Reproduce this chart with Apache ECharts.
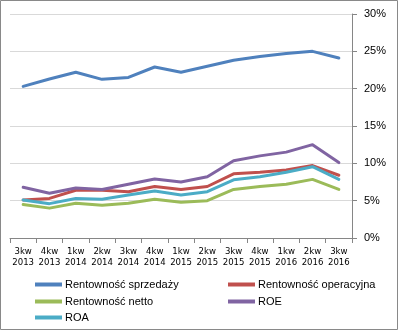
<!DOCTYPE html>
<html>
<head>
<meta charset="utf-8">
<script src="https://cdn.jsdelivr.net/npm/echarts@6/dist/echarts.min.js"></script>
<style>
  html, body { margin: 0; padding: 0; background: #fff; }
  #chart { width: 398px; height: 330px; }
</style>
</head>
<body>
<div id="chart"></div>
<script>
// Quarterly labels (quarter / year)
const quarters = [
  '3kw\n2013', '4kw\n2013', '1kw\n2014', '2kw\n2014', '3kw\n2014', '4kw\n2014',
  '1kw\n2015', '2kw\n2015', '3kw\n2015', '4kw\n2015', '1kw\n2016', '2kw\n2016', '3kw\n2016'
];

// Profitability ratios, in percent
const rentownoscSprzedazy   = [20.3, 21.3, 22.2, 21.25, 21.5, 22.9, 22.2, 23.0, 23.8, 24.3, 24.7, 25.0, 24.1];
const rentownoscOperacyjna  = [5.1, 5.3, 6.4, 6.4, 6.2, 6.9, 6.5, 6.9, 8.6, 8.8, 9.1, 9.7, 8.4];
const rentownoscNetto       = [4.5, 4.0, 4.65, 4.4, 4.65, 5.2, 4.8, 5.0, 6.5, 6.9, 7.2, 7.85, 6.5];
const roe                   = [6.8, 6.0, 6.7, 6.5, 7.2, 7.9, 7.5, 8.2, 10.35, 11.0, 11.5, 12.5, 10.1];
const roa                   = [5.1, 4.6, 5.3, 5.2, 5.75, 6.3, 5.75, 6.2, 7.8, 8.2, 8.8, 9.55, 7.85];

// Value axis ticks
const yMin = 0, yMax = 30, yStep = 5;

const seriesDefs = [
  { name: 'Rentowność sprzedaży',  data: rentownoscSprzedazy,  color: '#4F81BD' },
  { name: 'Rentowność operacyjna', data: rentownoscOperacyjna, color: '#C0504D' },
  { name: 'Rentowność netto',      data: rentownoscNetto,      color: '#9BBB59' },
  { name: 'ROE',                   data: roe,                  color: '#8064A2' },
  { name: 'ROA',                   data: roa,                  color: '#4BACC6' }
];

const textFont = 'Liberation Sans';
const narrowFont = '"DejaVu Sans Condensed", "Liberation Sans", sans-serif';

function legendAt(name, left, top) {
  return {
    data: [name],
    left: left,
    top: top,
    padding: 0,
    icon: 'rect',
    itemWidth: 27,
    itemHeight: 4,
    itemGap: 0,
    selectedMode: false,
    textStyle: { fontFamily: textFont, fontSize: 11, color: '#000', padding: [0, 0, 0, -2] }
  };
}

const chart = echarts.init(document.getElementById('chart'), null, { renderer: 'canvas' });

chart.setOption({
  animation: false,
  backgroundColor: '#fff',
  color: seriesDefs.map(s => s.color),
  grid: { left: 10, right: 46, top: 14, bottom: 92, containLabel: false },
  legend: [
    legendAt('Rentowność sprzedaży', 35, 279),
    legendAt('Rentowność operacyjna', 228, 279),
    legendAt('Rentowność netto', 35, 296),
    legendAt('ROE', 228, 296),
    legendAt('ROA', 35, 312)
  ],
  xAxis: {
    type: 'category',
    data: quarters,
    boundaryGap: true,
    axisLine: { lineStyle: { color: '#868686', width: 1 } },
    axisTick: { show: true, length: 5, interval: 0, lineStyle: { color: '#868686' } },
    axisLabel: {
      interval: 0,
      margin: 8,
      fontFamily: narrowFont,
      fontSize: 9.5,
      lineHeight: 11,
      color: '#000'
    },
    splitLine: { show: false }
  },
  yAxis: {
    type: 'value',
    position: 'right',
    min: yMin,
    max: yMax,
    interval: yStep,
    axisLine: { show: true, lineStyle: { color: '#868686', width: 1 } },
    axisTick: { show: true, length: 5, lineStyle: { color: '#868686' } },
    axisLabel: {
      margin: 12,
      formatter: '{value}%',
      fontFamily: textFont,
      fontSize: 11,
      color: '#000'
    },
    splitLine: { show: true, lineStyle: { color: '#D9D9D9', width: 1 } }
  },
  series: seriesDefs.map(s => ({
    name: s.name,
    type: 'line',
    data: s.data,
    showSymbol: false,
    symbol: 'none',
    smooth: false,
    lineStyle: { width: 3, color: s.color, join: 'round', cap: 'round' },
    itemStyle: { color: s.color },
    emphasis: { disabled: true }
  })),
  graphic: [{
    type: 'rect',
    silent: true,
    z: 100,
    shape: { x: 0.5, y: 0.5, width: 397, height: 329 },
    style: { fill: 'none', stroke: '#898989', lineWidth: 1 }
  }]
});
</script>
</body>
</html>
